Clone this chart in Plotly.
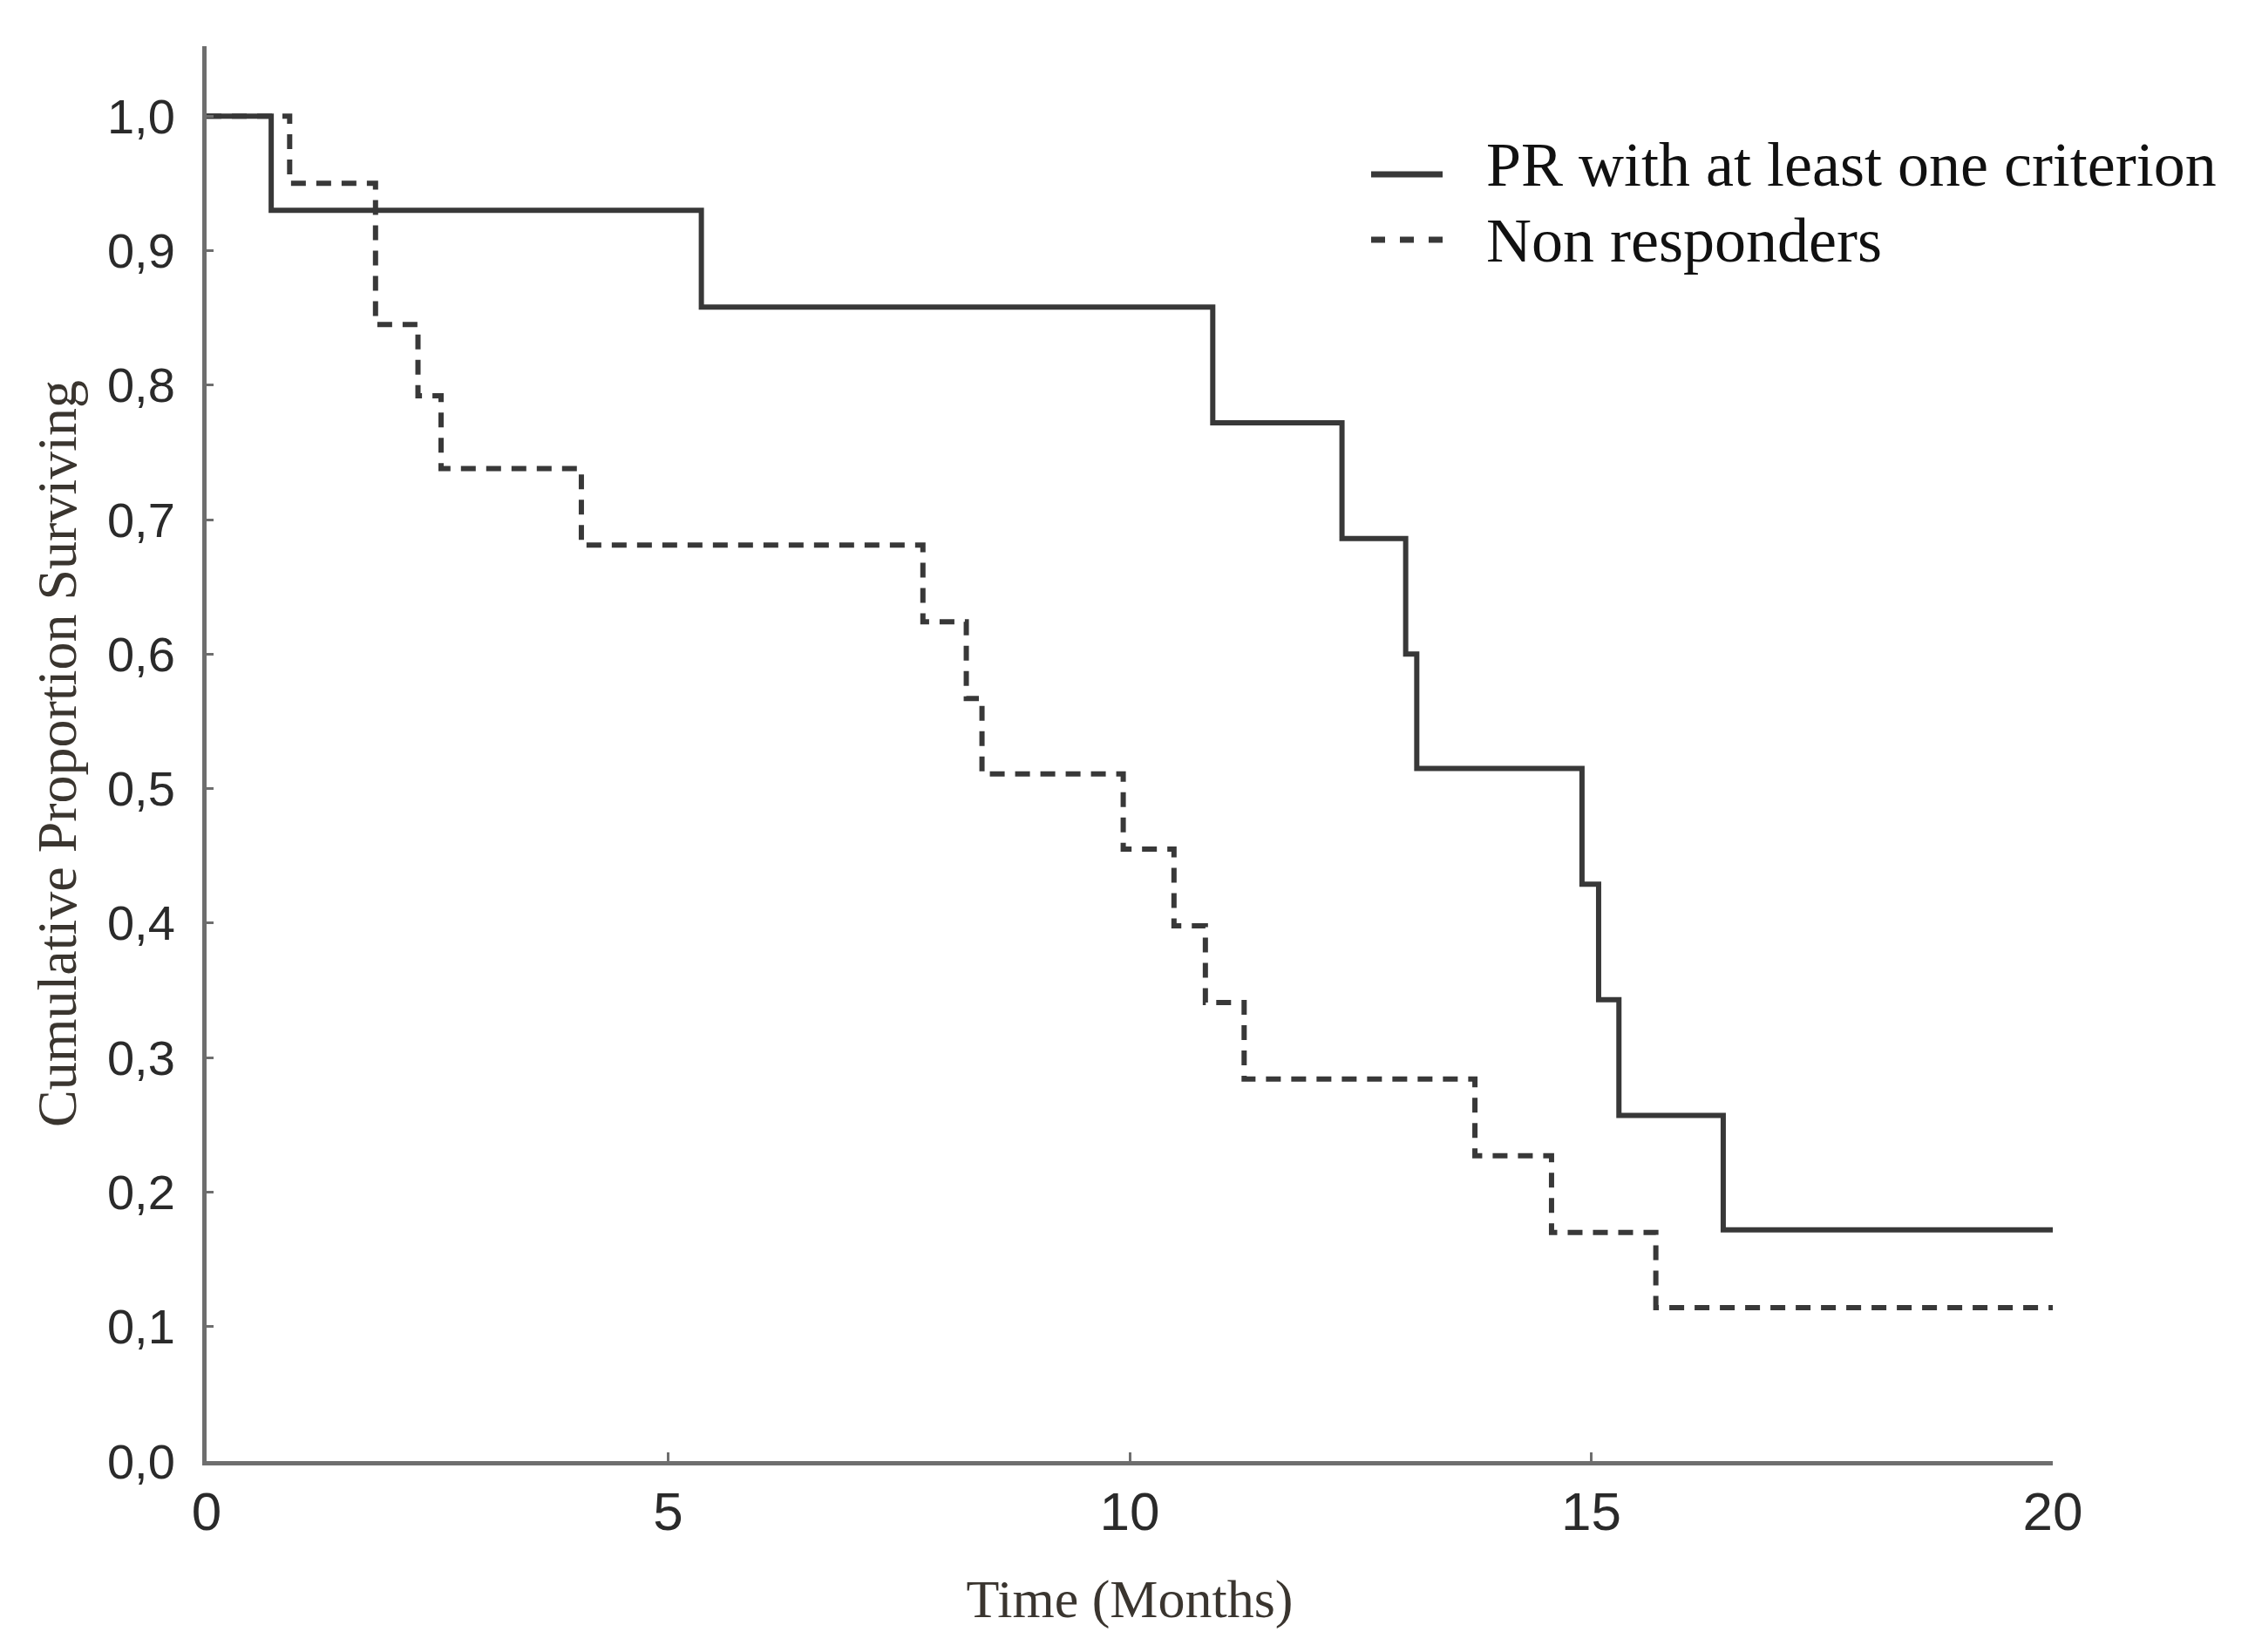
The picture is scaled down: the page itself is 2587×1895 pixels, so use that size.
import plotly.graph_objects as go

# Kaplan-Meier step data (time in months, survival proportion)
pr_time = [0, 0.70, 5.36, 10.90, 12.30, 12.99, 13.11, 14.90, 15.08, 15.30, 16.43, 20]
pr_surv = [1.0, 0.930, 0.858, 0.772, 0.686, 0.600, 0.515, 0.429, 0.343, 0.257, 0.172, 0.172]

nr_time = [0, 0.90, 1.83, 2.29, 2.54, 4.06, 7.76, 8.23, 8.40, 9.93, 10.48, 10.82, 11.24, 13.74, 14.57, 15.70, 20]
nr_surv = [1.0, 0.950, 0.845, 0.792, 0.738, 0.681, 0.624, 0.567, 0.511, 0.455, 0.398, 0.341, 0.284, 0.227, 0.170, 0.114, 0.114]

series_names = ["PR with at least one criterion", "Non responders"]

x_ticks = [0, 5, 10, 15, 20]
y_ticks = [0.0, 0.1, 0.2, 0.3, 0.4, 0.5, 0.6, 0.7, 0.8, 0.9, 1.0]
y_labels = ["0,0", "0,1", "0,2", "0,3", "0,4", "0,5", "0,6", "0,7", "0,8", "0,9", "1,0"]

W, H = 2587, 1895
ML, MR, MT, MB = 229, 240, 45, 227
LINE_COLOR = "#383838"
AXIS_COLOR = "#6e6e6e"

fig = go.Figure()
fig.add_trace(go.Scatter(
    x=pr_time, y=pr_surv, mode="lines", line_shape="hv",
    name=series_names[0], showlegend=False,
    line=dict(color=LINE_COLOR, width=6),
))
fig.add_trace(go.Scatter(
    x=nr_time, y=nr_surv, mode="lines", line_shape="hv",
    name=series_names[1], showlegend=False,
    line=dict(color=LINE_COLOR, width=6, dash="17px,12px"),
))

# Manual legend (longer line samples than Plotly's built-in legend)
pw, ph = W - ML - MR, H - MT - MB
def px_to_paper_x(px):
    return (px - ML) / pw
def px_to_paper_y(py):
    return (H - MB - py) / ph

legend_rows = [
    # (sample y, text y, dash)
    (192, 181, "solid"),
    (267, 268, "16px,17px"),
]
shapes = []
annotations = []
for (sample_y, text_y, dash), name in zip(legend_rows, series_names):
    shapes.append(dict(
        type="line", xref="paper", yref="paper",
        x0=px_to_paper_x(1565), x1=px_to_paper_x(1647),
        y0=px_to_paper_y(sample_y), y1=px_to_paper_y(sample_y),
        line=dict(color=LINE_COLOR, width=7, dash=dash),
    ))
    annotations.append(dict(
        xref="paper", yref="paper",
        x=px_to_paper_x(1695), y=px_to_paper_y(text_y),
        xanchor="left", yanchor="middle", showarrow=False,
        text=name,
        font=dict(family="Liberation Serif", size=72, color="#111111"),
    ))

fig.update_layout(
    width=W, height=H,
    margin=dict(l=ML, r=MR, t=MT, b=MB),
    paper_bgcolor="white", plot_bgcolor="white",
    showlegend=False,
    shapes=shapes,
    annotations=annotations,
    xaxis=dict(
        range=[0, 20], tickvals=x_ticks, ticktext=[str(t) for t in x_ticks],
        showgrid=False, zeroline=False,
        showline=True, linecolor=AXIS_COLOR, linewidth=5,
        ticks="inside", ticklen=10, tickwidth=3, tickcolor=AXIS_COLOR,
        ticklabelstandoff=0,
        tickfont=dict(family="Liberation Sans", size=62, color="#2a2a2a"),
        title=dict(text="Time (Months)", standoff=46,
                   font=dict(family="Liberation Serif", size=62, color="#3a352f")),
    ),
    yaxis=dict(
        range=[0, 1.052], tickvals=y_ticks, ticktext=y_labels,
        showgrid=False, zeroline=False,
        showline=True, linecolor=AXIS_COLOR, linewidth=5,
        ticks="inside", ticklen=8, tickwidth=3, tickcolor=AXIS_COLOR,
        ticklabelstandoff=20,
        tickfont=dict(family="Liberation Sans", size=56, color="#2a2a2a"),
        title=dict(text="Cumulative Proportion Surviving", standoff=16,
                   font=dict(family="Liberation Serif", size=64, color="#3a352f")),
    ),
)

fig.write_html("out.html")
